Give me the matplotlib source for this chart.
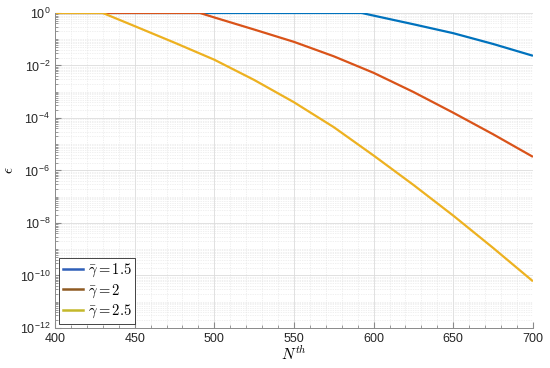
import numpy as np
import matplotlib
matplotlib.use("Agg")
import matplotlib.pyplot as plt
from matplotlib.ticker import LogLocator, FixedLocator, NullFormatter, MultipleLocator
from matplotlib.lines import Line2D

plt.rcParams['font.family'] = ['Liberation Sans', 'DejaVu Sans']
plt.rcParams['mathtext.fontset'] = 'cm'

# data: log10(epsilon)
n_15 = [400, 450, 500, 550, 592.5, 600, 625, 650, 675, 700]
log_eps_15 = [0, 0, 0, 0, 0, -0.10, -0.43, -0.77, -1.18, -1.63]

n_20 = [400, 450, 491, 500, 525, 550, 575, 600, 625, 650, 675, 700]
log_eps_20 = [0, 0, 0, -0.17, -0.63, -1.10, -1.65, -2.28, -3.01, -3.80, -4.62, -5.48]

n_25 = [400, 430, 450, 475, 500, 525, 550, 575, 600, 625, 650, 675, 700]
log_eps_25 = [0, 0, -0.50, -1.13, -1.78, -2.55, -3.40, -4.35, -5.43, -6.55, -7.72, -8.95, -10.22]

labels = [r'$\bar{\gamma} = 1.5$', r'$\bar{\gamma} = 2$', r'$\bar{\gamma} = 2.5$']
line_colors = ['#0072BD', '#D95319', '#EDB120']
legend_colors = ['#2f5fb8', '#8f5a22', '#c4b82a']

fig = plt.figure(figsize=(5.5, 3.68), dpi=100)
ax = fig.add_axes([0.1, 0.1087, 0.869, 0.856])

series = [(n_15, log_eps_15), (n_20, log_eps_20), (n_25, log_eps_25)]
for (n, le), c in zip(series, line_colors):
    ax.plot(n, 10.0 ** np.array(le), color=c, lw=1.6, solid_capstyle='butt')

ax.set_yscale('log')
ax.set_xlim(400, 700)
ax.set_ylim(1e-12, 1e0)
ax.set_xticks([400, 450, 500, 550, 600, 650, 700])
ax.xaxis.set_minor_locator(MultipleLocator(10))
ax.yaxis.set_major_locator(FixedLocator([10.0 ** k for k in range(-12, 1, 2)]))
ax.yaxis.set_minor_locator(LogLocator(base=10, subs=np.arange(1, 10), numticks=100))
ax.yaxis.set_minor_formatter(NullFormatter())

ax.grid(True, which='major', color='#dcdcdc', lw=0.6, ls='-')
ax.grid(True, which='minor', color='#e2e2e2', lw=0.5, ls=(0, (1, 1.5)))
ax.set_axisbelow(True)

for s in ['top', 'right']:
    ax.spines[s].set_visible(False)
for s in ['left', 'bottom']:
    ax.spines[s].set_color('#8a8a8a')
    ax.spines[s].set_linewidth(0.7)

ax.tick_params(which='both', direction='in', colors='#8a8a8a', labelcolor='#262626', labelsize=9)
ax.tick_params(which='major', length=4)
ax.tick_params(which='minor', length=2)

ax.set_xlabel(r'$N^{th}$', fontsize=11, labelpad=0)
ax.set_ylabel(r'$\epsilon$', fontsize=11)
ax.yaxis.set_label_coords(-0.08, 0.5)

handles = [Line2D([0], [0], color=c, lw=1.8) for c in legend_colors]
leg = ax.legend(handles, labels, loc='lower left', fontsize=10.5, frameon=True,
                fancybox=False, edgecolor='#262626', framealpha=1,
                handlelength=1.4, handletextpad=0.3, borderpad=0.25, labelspacing=0.2,
                borderaxespad=0.3)
leg.get_frame().set_linewidth(0.6)

fig.savefig('out.png', dpi=100)
